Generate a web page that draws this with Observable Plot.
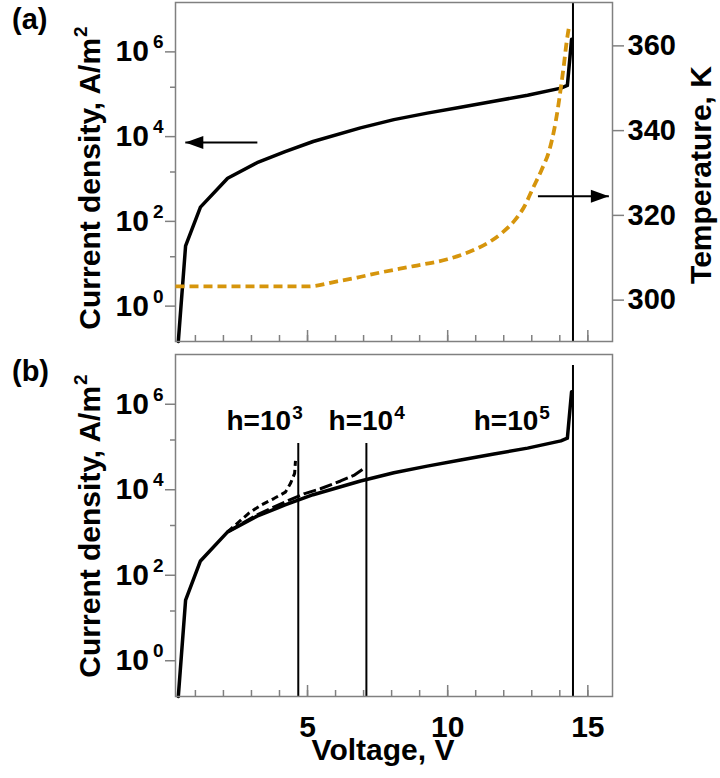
<!DOCTYPE html>
<html>
<head>
<meta charset="utf-8">
<script src="https://cdn.jsdelivr.net/npm/d3@7"></script>
<script src="https://cdn.jsdelivr.net/npm/@observablehq/plot@0.6"></script>
<style>
  body { margin: 0; background: #fff; }
  #chart { position: relative; width: 720px; height: 778px; background: #fff; }
  #chart svg { position: absolute; left: 0; }
</style>
</head>
<body>
<div id="chart"></div>
<script>
// ---------------- data ----------------
// J–V curve (h = 10^5), voltage in V, current density in A/m^2
const jvVoltage = [0.39, 0.65, 1.18, 2.15, 3.2, 4.2, 5.2, 6.89, 8.08, 9.27, 10.46, 11.65, 12.85, 14.04, 14.27, 14.42];
const jvCurrent = [0.1, 18, 148, 710, 1660, 3020, 5250, 11000, 17200, 24500, 33900, 46800, 64600, 95500, 110000, 1350000];

// temperature curve, K
const tempVoltage = [0.29, 5.0, 6.06, 6.77, 7.61, 8.79, 9.99, 11.0, 11.54, 11.95, 12.37, 12.73, 13.05, 13.35, 13.62, 13.8, 13.92, 14.04, 14.15, 14.24, 14.34];
const tempKelvin  = [303, 303, 304.2, 305.1, 306.3, 307.8, 309.4, 311.8, 313.7, 315.7, 318.4, 321.8, 326.3, 330.5, 335, 340, 344.5, 350, 355.5, 360.5, 364.7];

// h = 10^3 and h = 10^4 curves (panel b)
const h3Voltage = [2.15, 2.89, 3.32, 3.80, 4.21, 4.39, 4.54, 4.57];
const h3Current = [710, 1900, 2950, 4270, 6030, 9550, 16600, 32400];
const h4Voltage = [2.15, 3.2, 4.2, 4.87, 5.46, 6.18, 6.65, 7.01];
const h4Current = [710, 1780, 3550, 5500, 7240, 11000, 14800, 21400];

// breakdown voltages and top of their markers
const breakVoltage = [4.67, 7.10, 14.47];
const breakTop = [82800, 82800, 5.5e6];

// h labels
const hLabelText = ["h=10^3", "h=10^4", "h=10^5"];
const hLabelVoltage = [2.11, 5.75, 10.93];
const hLabelCurrent = [1.75e5, 1.75e5, 1.75e5];

// arrows
const arrowJ = [{from: 3.21, to: 0.64, y: 4940}];
const arrowT = [{from: 13.22, to: 15.75, y: 324.3}];

// ticks
const xMajorTicks = [5, 10, 15];
const xMinorTicks = d3.range(1, 16);
const yMajorTicks = [1, 1e2, 1e4, 1e6];
const yMinorTicks = [10, 1e3, 1e5];
const tempTicks = [300, 320, 340, 360];

// ---------------- tables ----------------
const jv = jvVoltage.map((V, i) => ({V, J: jvCurrent[i]}));
const temp = tempVoltage.map((V, i) => ({V, T: tempKelvin[i]}));
const h3 = h3Voltage.map((V, i) => ({V, J: h3Current[i]}));
const h4 = h4Voltage.map((V, i) => ({V, J: h4Current[i]}));
const breaks = breakVoltage.map((V, i) => ({V, top: breakTop[i]}));
const hLabels = hLabelText.map((label, i) => ({label, V: hLabelVoltage[i], J: hLabelCurrent[i]}));

// ---------------- styles ----------------
const font = '"Liberation Sans", Arial, Helvetica, sans-serif';
const gray = "#808080";
const orange = "#D6950C";
const xDomain = [0.29, 15.88];
const yDomain = [0.1, 1e7];
const arrowHead = {draw(ctx) { ctx.moveTo(0, 0); ctx.lineTo(-18, -6.5); ctx.lineTo(-18, 6.5); ctx.closePath(); }};
const baseStyle = {fontFamily: font, fontWeight: "bold", background: "transparent", overflow: "visible"};
const common = {width: 720, marginLeft: 175, marginRight: 108, style: baseStyle};

function xTickMarks(withLabels) {
  const m = [
    Plot.axisX(xMinorTicks, {tickSize: -6, tickFormat: () => "", stroke: gray, strokeWidth: 1.5, label: null}),
    Plot.axisX(xMajorTicks, {tickSize: -11, tickFormat: () => "", stroke: gray, strokeWidth: 1.5, label: null})
  ];
  if (withLabels) m.push(Plot.axisX(xMajorTicks, {tickSize: 0, tickPadding: 19, fontSize: 30, fontWeight: "bold", label: null}));
  return m;
}
function yTickMarks() {
  return [
    Plot.axisY(yMinorTicks, {tickSize: 5, tickFormat: () => "", stroke: gray, strokeWidth: 1.5, label: null}),
    Plot.axisY(yMajorTicks, {tickSize: 10, tickPadding: 2, dy: 7, fontSize: 30, fontWeight: "bold", stroke: gray, strokeWidth: 1.5,
      tickFormat: d => "10^" + Math.round(Math.log10(d)), label: null})
  ];
}

function supify(svg, selector, {size, dx, dy}) {
  d3.select(svg).selectAll(selector).each(function() {
    const t = this.textContent;
    const i = t.indexOf("^");
    if (i < 0) return;
    this.textContent = t.slice(0, i);
    d3.select(this).append("tspan").attr("font-size", size).attr("dx", dx).attr("dy", dy).text(t.slice(i + 1));
  });
}
function addText(svg, {x, y, rotate = 0, anchor = "middle", size, text, sup}) {
  const t = d3.select(svg).append("text")
    .attr("transform", `translate(${x},${y}) rotate(${rotate})`)
    .attr("text-anchor", anchor)
    .attr("font-family", font).attr("font-weight", "bold").attr("font-size", size)
    .attr("fill", "black")
    .text(text);
  if (sup) t.append("tspan").attr("font-size", sup.size).attr("dx", sup.dx).attr("dy", sup.dy).text(sup.text);
}

// ---------------- panel (a): current density ----------------
const plotA = Plot.plot({
  ...common, height: 345, marginTop: 2, marginBottom: 4,
  x: {domain: xDomain, label: null},
  y: {type: "log", domain: yDomain, label: null},
  marks: [
    Plot.ruleX([breakVoltage[2]], {stroke: "black", strokeWidth: 2}),
    Plot.line(jv, {x: "V", y: "J", stroke: "black", strokeWidth: 3.5}),
    Plot.link(arrowJ, {x1: "from", x2: "to", y1: "y", y2: "y", stroke: "black", strokeWidth: 2}),
    Plot.dot(arrowJ, {x: "to", y: "y", symbol: arrowHead, rotate: 180, fill: "black", stroke: "none"}),
    Plot.frame({stroke: gray, strokeWidth: 1.5}),
    ...xTickMarks(false),
    ...yTickMarks()
  ]
});

// ---------------- panel (a): temperature overlay ----------------
const plotT = Plot.plot({
  ...common, height: 345, marginTop: 2, marginBottom: 4,
  x: {domain: xDomain, axis: null, label: null},
  y: {domain: [290, 370], label: null},
  marks: [
    Plot.line(temp, {x: "V", y: "T", stroke: orange, strokeWidth: 3.8, strokeDasharray: "9,5", strokeLinecap: "butt", curve: "monotone-x"}),
    Plot.link(arrowT, {x1: "from", x2: "to", y1: "y", y2: "y", stroke: "black", strokeWidth: 2}),
    Plot.dot(arrowT, {x: "to", y: "y", symbol: arrowHead, rotate: 0, fill: "black", stroke: "none"}),
    Plot.axisY(tempTicks, {anchor: "right", tickSize: 11, tickPadding: 4, dy: 1, fontSize: 29, fontWeight: "bold", stroke: gray, strokeWidth: 1.5, label: null})
  ]
});

// ---------------- panel (b) ----------------
const plotB = Plot.plot({
  ...common, height: 433, marginTop: 9, marginBottom: 82,
  x: {domain: xDomain, label: null},
  y: {type: "log", domain: yDomain, label: null},
  marks: [
    Plot.ruleX(breaks, {x: "V", y1: 0.1, y2: "top", stroke: "black", strokeWidth: 2}),
    Plot.line(jv, {x: "V", y: "J", stroke: "black", strokeWidth: 3.5}),
    Plot.line(h3, {x: "V", y: "J", stroke: "black", strokeWidth: 3, strokeDasharray: "7,4", strokeLinecap: "butt"}),
    Plot.line(h4, {x: "V", y: "J", stroke: "black", strokeWidth: 3, strokeDasharray: "13,4", strokeLinecap: "butt"}),
    Plot.text(hLabels, {x: "V", y: "J", text: "label", textAnchor: "start", lineAnchor: "bottom", fontSize: 28, fontWeight: "bold", fill: "black"}),
    Plot.frame({stroke: gray, strokeWidth: 1.5}),
    ...xTickMarks(true),
    ...yTickMarks()
  ]
});

// superscripts & titles
const tickSup = {size: "19px", dx: 4, dy: -13};
supify(plotA, 'g[aria-label="y-axis tick label"] text', tickSup);
supify(plotB, 'g[aria-label="y-axis tick label"] text', tickSup);
supify(plotB, 'g[aria-label="text"] text', {size: "19px", dx: 1, dy: -11});

const titleSup = {text: "2", size: "19px", dx: 1, dy: -13};
addText(plotA, {x: 100, y: 178, rotate: -90, size: "30px", text: "Current density, A/m", sup: titleSup});
addText(plotB, {x: 100, y: 181, rotate: -90, size: "30px", text: "Current density, A/m", sup: titleSup});
addText(plotT, {x: 711, y: 175, rotate: -90, size: "30px", text: "Temperature, K"});
addText(plotA, {x: 12, y: 29, anchor: "start", size: "29px", text: "(a)"});
addText(plotB, {x: 12, y: 36, anchor: "start", size: "29px", text: "(b)"});
addText(plotB, {x: 383, y: 415, size: "30px", text: "Voltage, V"});

const chart = document.getElementById("chart");
plotA.style.top = "0px";
plotT.style.top = "0px";
plotB.style.top = "345px";
chart.append(plotA, plotT, plotB);
</script>
</body>
</html>
